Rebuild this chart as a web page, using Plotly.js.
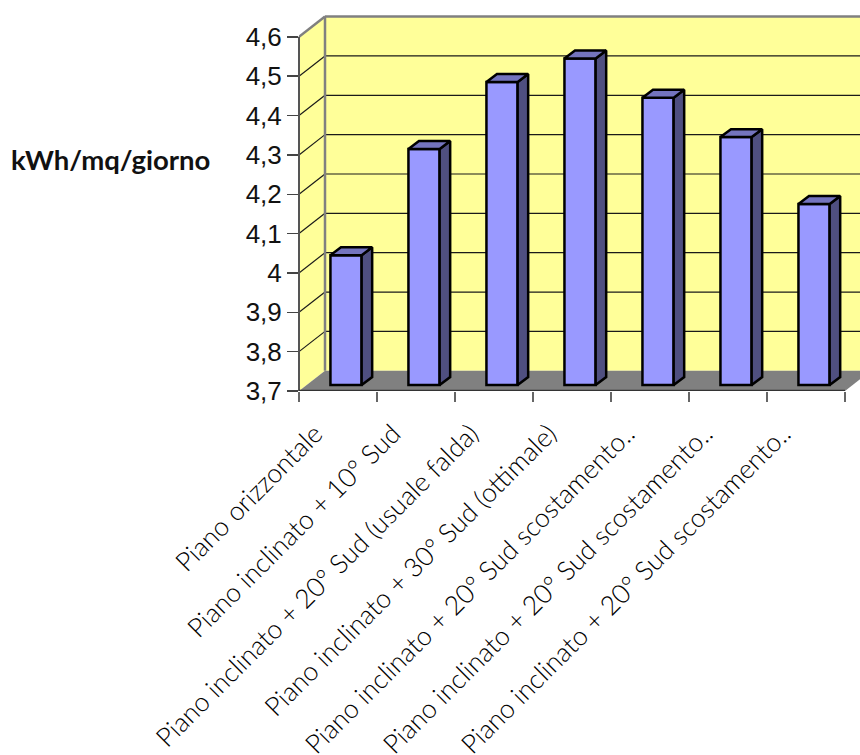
<!DOCTYPE html>
<html>
<head>
<meta charset="utf-8">
<script src="https://cdn.plot.ly/plotly-3.0.1.min.js"></script>
<style>html,body{margin:0;padding:0;background:#fff;overflow:hidden}</style>
</head>
<body>
<div id="chart" style="width:860px;height:755px"></div>
<script>
// Daily irradiation for different panel orientations
const categories = [
  'Piano orizzontale',
  'Piano inclinato + 10° Sud',
  'Piano inclinato + 20° Sud (usuale falda)',
  'Piano inclinato + 30° Sud (ottimale)',
  'Piano inclinato + 20° Sud scostamento..',
  'Piano inclinato + 20° Sud scostamento..',
  'Piano inclinato + 20° Sud scostamento..'
];
const values = [4.03, 4.30, 4.47, 4.53, 4.43, 4.33, 4.16];
const yTickVals = [3.7, 3.8, 3.9, 4.0, 4.1, 4.2, 4.3, 4.4, 4.5, 4.6];
const yTickText = ['3,7', '3,8', '3,9', '4', '4,1', '4,2', '4,3', '4,4', '4,5', '4,6'];
const unitLabel = 'kWh/mq/giorno';

// Pseudo-3D box geometry, in axis units
const yMin = 3.7, yMax = 4.6;
const xLeft = -0.5, xRight = 6.5, xEnd = 6.692;
const wallDx = 1 / 3, wallDy = 0.0515;
const barW = 0.4, barShift = 0.103, barLift = 0.0152;
const barDx = 0.135, barDy = 0.0203;

const FACE = '#9999FF', SIDE = '#4F4F80', TOP = '#7474BE';
const WALL = '#FFFF99', FLOOR = '#808080', EDGE = '#808080';
const LABEL_FONT = 'Lato, "Noto Sans", sans-serif';

const shapes = [];
const poly = (pts, fill, layer) => shapes.push({
  type: 'path', xref: 'x', yref: 'y', layer: layer || 'below',
  path: 'M' + pts.map(p => p.join(',')).join('L') + 'Z',
  fillcolor: fill, line: {width: 0}
});
const seg = (x0, y0, x1, y1, color, width, layer) => shapes.push({
  type: 'line', xref: 'x', yref: 'y', layer: layer || 'below',
  x0, y0, x1, y1, line: {color, width}
});

// Side wall, back wall and floor
poly([[xLeft, yMin], [xLeft + wallDx, yMin + wallDy], [xLeft + wallDx, yMax + wallDy], [xLeft, yMax]], WALL);
poly([[xLeft + wallDx, yMin + wallDy], [xRight + wallDx, yMin + wallDy], [xRight + wallDx, yMax + wallDy], [xLeft + wallDx, yMax + wallDy]], WALL);

// Gridlines run across the back wall and down the side wall
yTickVals.slice(1, -1).forEach(v => {
  seg(xLeft, v, xLeft + wallDx, v + wallDy, '#1A1A1A', 1.2);
  seg(xLeft + wallDx, v + wallDy, xRight + wallDx, v + wallDy, '#1A1A1A', 1.2);
});
poly([[xLeft, yMin], [xRight, yMin], [xRight + wallDx, yMin + wallDy], [xLeft + wallDx, yMin + wallDy]], FLOOR);

// Wall borders
seg(xLeft, yMax, xLeft + wallDx, yMax + wallDy, EDGE, 2.5);
seg(xLeft + wallDx, yMin + wallDy, xLeft + wallDx, yMax + wallDy, EDGE, 2.5);
seg(xLeft + wallDx, yMax + wallDy, xRight + wallDx, yMax + wallDy, EDGE, 2.5);
shapes.push({
  type: 'line', xref: 'paper', yref: 'y', layer: 'above',
  x0: 0, x1: 0, y0: yMin, y1: yMax, line: {color: '#555555', width: 2}
});

// Side and top faces of each bar, separated by gaps in the path
const sideX = [], sideY = [], topX = [], topY = [];
values.forEach((v, i) => {
  const l = i + barShift - barW / 2, r = l + barW;
  const b = yMin + barLift, t = v + barLift;
  sideX.push(r, r + barDx, r + barDx, r, r, null);
  sideY.push(b, b + barDy, t + barDy, t, b, null);
  topX.push(l, l + barDx, r + barDx, r, l, null);
  topY.push(t, t + barDy, t + barDy, t, t, null);
});

const outline = {color: '#000000', width: 2.5};
const traces = [
  {
    // Bar heights are measured from the axis minimum
    type: 'bar',
    x: categories.map((_, i) => i + barShift),
    y: values.map(v => v - yMin),
    base: yMin + barLift,
    width: barW,
    marker: {color: FACE, line: outline},
    hoverinfo: 'skip'
  },
  {type: 'scatter', mode: 'lines', x: sideX, y: sideY, fill: 'toself', fillcolor: SIDE, line: outline, hoverinfo: 'skip'},
  {type: 'scatter', mode: 'lines', x: topX, y: topY, fill: 'toself', fillcolor: TOP, line: outline, hoverinfo: 'skip'}
];

const boundaryTicks = categories.map((_, i) => i - 0.5).concat([xRight]);

const layout = {
  width: 860,
  height: 755,
  autosize: false,
  showlegend: false,
  paper_bgcolor: '#ffffff',
  plot_bgcolor: '#ffffff',
  margin: {l: 299, r: 0, t: 10, b: 363.5, pad: 0},
  bargap: 0,
  xaxis: {
    type: 'linear',
    range: [xLeft, xEnd],
    showgrid: false,
    zeroline: false,
    showline: false,
    automargin: false,
    tickmode: 'array',
    tickvals: categories.map((_, i) => i),
    ticktext: categories,
    ticks: '',
    tickangle: -45,
    ticklabelstandoff: 21,
    ticklabelshift: -23,
    tickfont: {family: LABEL_FONT, size: 26.5, weight: 300, color: '#000000'},
    minor: {tickmode: 'array', tickvals: boundaryTicks, ticks: 'outside', ticklen: 10, tickwidth: 1.5, tickcolor: '#666666', showgrid: false}
  },
  yaxis: {
    range: [yMin, yMin + 381.5 / 394],
    showgrid: false,
    zeroline: false,
    showline: false,
    automargin: false,
    tickmode: 'array',
    tickvals: yTickVals,
    ticktext: yTickText,
    ticks: 'outside',
    ticklen: 11,
    tickwidth: 1.5,
    tickcolor: '#444444',
    tickfont: {family: '"Liberation Sans", Arial, sans-serif', size: 26, color: '#111111'}
  },
  shapes: shapes.concat([{
    type: 'line', xref: 'x', yref: 'y', layer: 'above',
    x0: xLeft, x1: xRight, y0: yMin, y1: yMin, line: {color: '#333333', width: 2.5}
  }]),
  annotations: [{
    xref: 'paper', yref: 'paper',
    x: -0.155, y: 0.608,
    xanchor: 'right', yanchor: 'middle',
    showarrow: false,
    text: '<b>' + unitLabel + '</b>',
    font: {family: 'Lato, "DejaVu Sans", sans-serif', size: 27.5, color: '#111111'}
  }]
};

Plotly.newPlot('chart', traces, layout, {displayModeBar: false, staticPlot: true});
</script>
</body>
</html>
